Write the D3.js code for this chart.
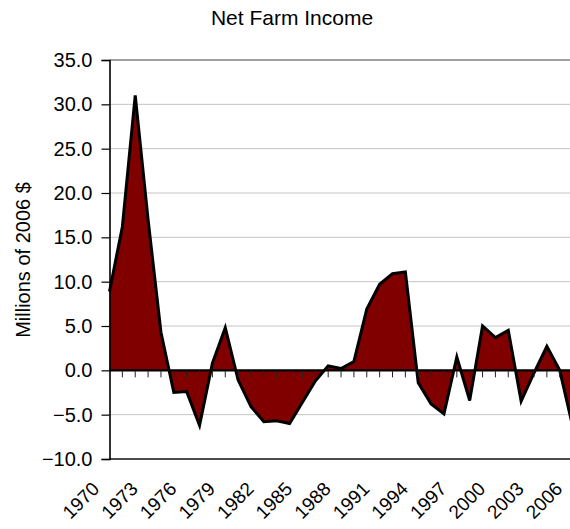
<!DOCTYPE html>
<html>
<head>
<meta charset="utf-8">
<script src="https://cdn.jsdelivr.net/npm/d3@7"></script>
<style>
  body { margin: 0; background: #fff; }
  svg { display: block; font-family: "Liberation Sans", Arial, sans-serif; }
</style>
</head>
<body>
<svg id="chart" width="570" height="529"></svg>
<script>
const years = d3.range(1970, 2007);
const income = [
  8.9, 16.2, 31.0, 17.0, 4.3, -2.5, -2.4, -6.2, 0.8, 4.8,
  -1.1, -4.1, -5.8, -5.7, -6.0, -3.6, -1.2, 0.5, 0.2, 1.0,
  6.9, 9.7, 10.9, 11.1, -1.4, -3.8, -4.9, 1.5, -3.4, 5.0,
  3.7, 4.5, -3.5, -0.3, 2.7, 0.0, -6.3
];
const yTicks = [35, 30, 25, 20, 15, 10, 5, 0, -5, -10];
const xLabels = [1970, 1973, 1976, 1979, 1982, 1985, 1988, 1991, 1994, 1997, 2000, 2003, 2006];

const data = years.map((yr, i) => ({ year: yr, value: income[i] }));

const svg = d3.select("#chart");
const plotLeft = 109.5, plotTop = 60, plotBottom = 459, plotRight = 590;

const x = d3.scaleLinear().domain([1970, 2006]).range([plotLeft, 572.6]);
const y = d3.scaleLinear().domain([-10, 35]).range([plotBottom, plotTop]);

// gridlines
svg.append("g")
  .selectAll("line")
  .data(yTicks.filter(d => d < 35 && d > -10 && d !== 0))
  .join("line")
  .attr("x1", plotLeft).attr("x2", plotRight)
  .attr("y1", d => y(d)).attr("y2", d => y(d))
  .attr("stroke", "#c4c4c4")
  .attr("stroke-width", 1);

// plot frame top / bottom
svg.append("line").attr("x1", plotLeft).attr("x2", plotRight)
  .attr("y1", y(35)).attr("y2", y(35))
  .attr("stroke", "#444").attr("stroke-width", 1.2);
svg.append("line").attr("x1", plotLeft).attr("x2", plotRight)
  .attr("y1", y(-10)).attr("y2", y(-10))
  .attr("stroke", "#111").attr("stroke-width", 1.4);

const area = d3.area()
  .x(d => x(d.year))
  .y0(y(0))
  .y1(d => y(d.value));

const line = d3.line()
  .x(d => x(d.year))
  .y(d => y(d.value));

svg.append("path")
  .datum(data)
  .attr("d", area)
  .attr("fill", "#800000");

svg.append("path")
  .datum(data)
  .attr("d", line)
  .attr("fill", "none")
  .attr("stroke", "#000")
  .attr("stroke-width", 3)
  .attr("stroke-linejoin", "miter");

// zero axis with small ticks
svg.append("line").attr("x1", plotLeft).attr("x2", plotRight)
  .attr("y1", y(0)).attr("y2", y(0))
  .attr("stroke", "#000").attr("stroke-width", 2.2);

svg.append("g")
  .selectAll("line")
  .data(years.slice(1))
  .join("line")
  .attr("x1", d => x(d)).attr("x2", d => x(d))
  .attr("y1", y(0)).attr("y2", y(0) + 7)
  .attr("stroke", "#222")
  .attr("stroke-width", 1);

// y axis
const yAxis = d3.axisLeft(y)
  .tickValues(yTicks)
  .tickSize(8)
  .tickPadding(9)
  .tickFormat(d3.format(".1f"));

const gy = svg.append("g")
  .attr("transform", `translate(${plotLeft},0)`)
  .call(yAxis);
gy.select(".domain").attr("stroke", "#000").attr("stroke-width", 1.6);
gy.selectAll(".tick line").attr("stroke", "#000").attr("stroke-width", 1.2);
gy.selectAll(".tick text")
  .attr("font-size", 20)
  .attr("font-family", "Liberation Sans, Arial, sans-serif")
  .attr("fill", "#000");

// x labels, rotated
svg.append("g")
  .selectAll("text")
  .data(xLabels)
  .join("text")
  .attr("transform", d => `translate(${x(d) - 9},490) rotate(-45)`)
  .attr("text-anchor", "end")
  .attr("font-size", 19)
  .attr("fill", "#000")
  .text(d => d);

// title
svg.append("text")
  .attr("x", 292)
  .attr("y", 25)
  .attr("text-anchor", "middle")
  .attr("font-size", 21)
  .attr("fill", "#000")
  .text("Net Farm Income");

svg.append("text")
  .attr("transform", "translate(30,260) rotate(-90)")
  .attr("text-anchor", "middle")
  .attr("font-size", 20)
  .attr("fill", "#000")
  .text("Millions of 2006 $");
</script>
</body>
</html>
